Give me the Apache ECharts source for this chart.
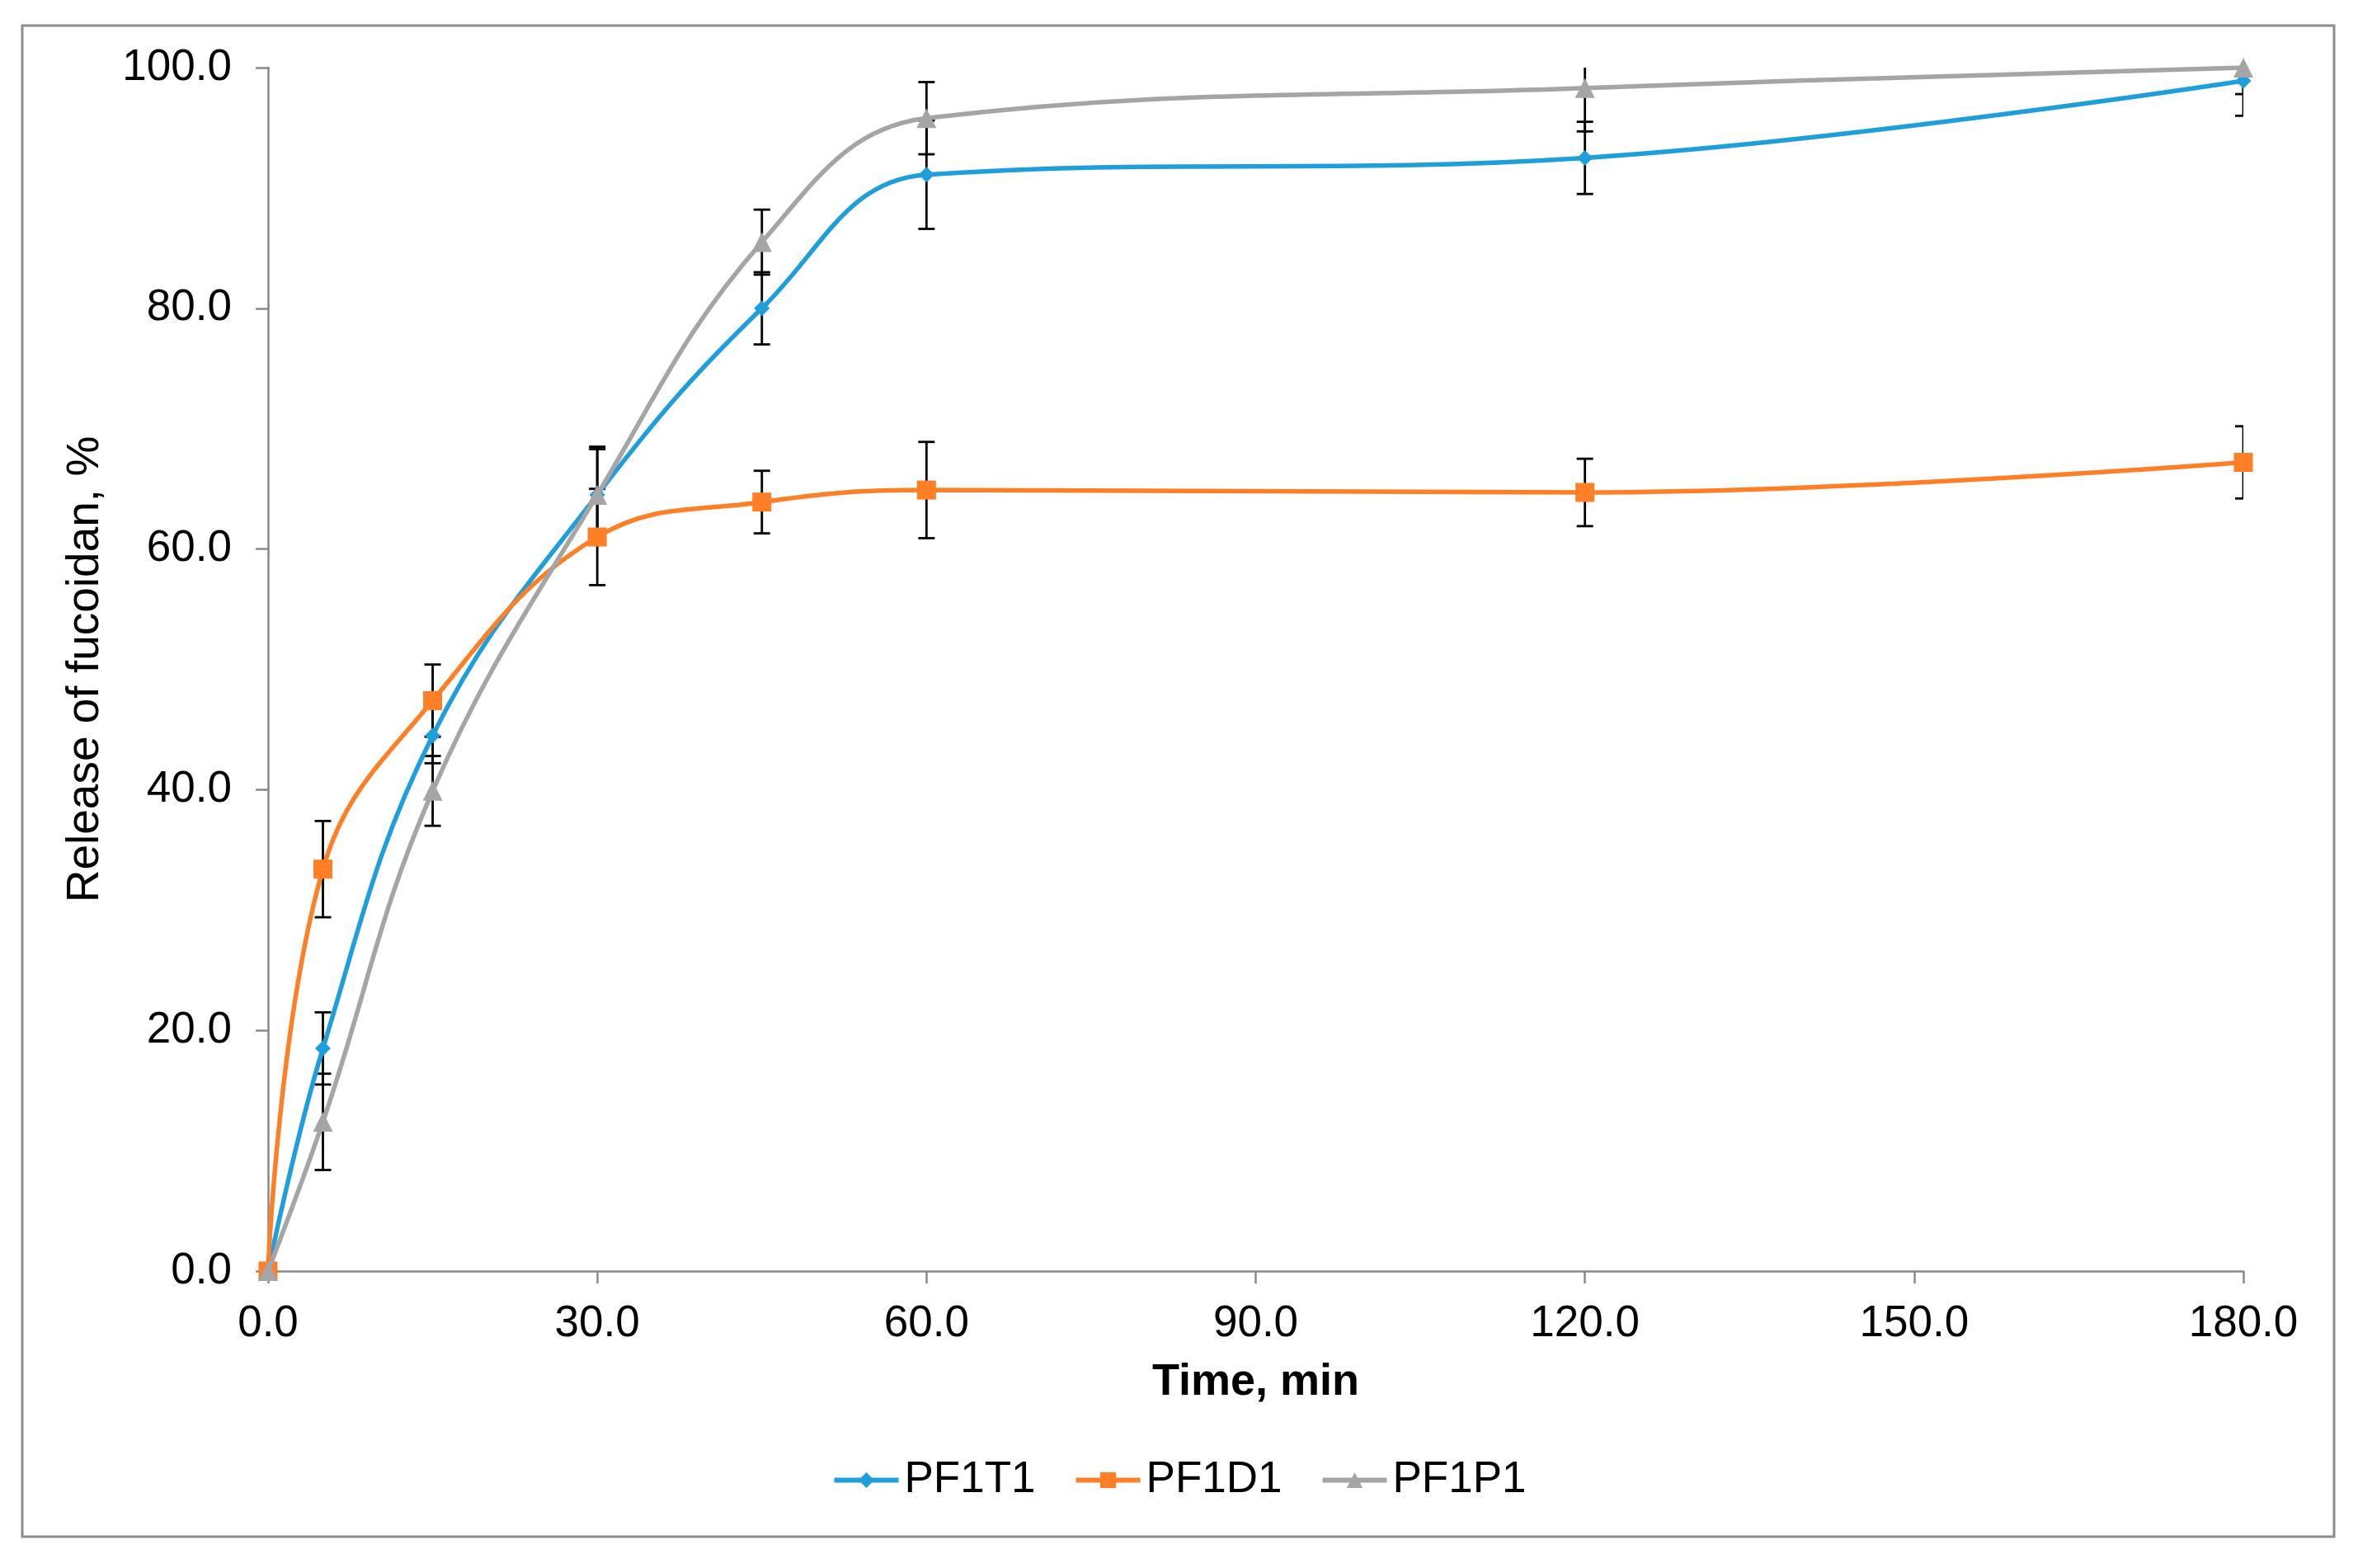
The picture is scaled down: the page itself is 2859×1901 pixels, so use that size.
<!DOCTYPE html>
<html>
<head>
<meta charset="utf-8">
<script src="https://cdn.jsdelivr.net/npm/echarts@6/dist/echarts.min.js"></script>
<style>
html,body{margin:0;padding:0;background:#fff;}
#chart{width:2859px;height:1901px;}
</style>
</head>
<body>
<div id="chart"></div>
<script>
const times = [0, 5, 15, 30, 45, 60, 120, 180];
const seriesNames = ['PF1T1', 'PF1D1', 'PF1P1'];
const valuesT1 = [0, 18.5, 44.5, 64.5, 80.0, 91.1, 92.5, 98.9];
const valuesD1 = [0, 33.4, 47.4, 61.0, 63.9, 64.9, 64.7, 67.2];
const valuesP1 = [0, 12.4, 39.9, 64.5, 85.5, 95.8, 98.3, 100.0];
const errorsT1 = [0, 3.0, 2.3, 3.8, 3.0, 4.5, 3.0, 2.9];
const errorsD1 = [0, 4.0, 3.0, 4.0, 2.6, 4.0, 2.8, 3.0];
const errorsP1 = [0, 4.0, 2.9, 4.0, 2.7, 3.0, 3.6, 2.2];
const xTicks = [0, 30, 60, 90, 120, 150, 180];
const yTicks = [0, 20, 40, 60, 80, 100];

const colors = ['#1F9EDC', '#FF7F27', '#A5A5A5'];
const symbols = ['diamond', 'rect', 'triangle'];
const symbolSizes = [19, 23, 24];
const allValues = [valuesT1, valuesD1, valuesP1];
const allErrors = [errorsT1, errorsD1, errorsP1];

const FONT = '"Liberation Sans", Arial, sans-serif';

function pairs(vals) { return times.map((t, i) => [t, vals[i]]); }
function errPairs(vals, errs) { return times.map((t, i) => [t, vals[i], errs[i]]); }

function renderErr(params, api) {
  const x = api.value(0), v = api.value(1), e = api.value(2);
  if (!e) return null;
  const lo = api.coord([x, v - e]);
  const hi = api.coord([x, v + e]);
  const w = 10;
  const st = { stroke: '#000', lineWidth: 2.8 };
  return {
    type: 'group',
    children: [
      { type: 'line', shape: { x1: lo[0], y1: lo[1], x2: hi[0], y2: hi[1] }, style: st },
      { type: 'line', shape: { x1: lo[0] - w, y1: lo[1], x2: lo[0] + w, y2: lo[1] }, style: st },
      { type: 'line', shape: { x1: hi[0] - w, y1: hi[1], x2: hi[0] + w, y2: hi[1] }, style: st }
    ]
  };
}

const series = [];
for (let k = 0; k < 3; k++) {
  series.push({
    type: 'custom',
    name: seriesNames[k] + ' err',
    renderItem: renderErr,
    data: errPairs(allValues[k], allErrors[k]),
    encode: { x: 0, y: 1 },
    clip: true,
    z: 1,
    silent: true
  });
}
for (let k = 0; k < 3; k++) {
  series.push({
    type: 'line',
    name: seriesNames[k],
    data: pairs(allValues[k]),
    smooth: 0.4,
    symbol: symbols[k],
    symbolSize: symbolSizes[k],
    showAllSymbol: true,
    itemStyle: { color: colors[k] },
    lineStyle: { color: colors[k], width: 5.5 },
    clip: false,
    z: 3 + k
  });
}

const chart = echarts.init(document.getElementById('chart'));
chart.setOption({
  animation: false,
  backgroundColor: '#fff',
  graphic: [{
    type: 'rect',
    shape: { x: 27, y: 31, width: 2803, height: 1832 },
    style: { fill: 'none', stroke: '#8C8C8C', lineWidth: 3 },
    silent: true
  }],
  grid: { left: 325, right: 139, top: 82, bottom: 360, containLabel: false },
  legend: {
    data: seriesNames,
    left: 'center',
    top: 1763,
    itemWidth: 78,
    itemHeight: 24,
    itemGap: 46,
    lineStyle: { width: 6 },
    textStyle: { fontFamily: FONT, fontSize: 53, color: '#000', padding: [0, 0, 0, 2] }
  },
  xAxis: {
    type: 'value',
    min: 0, max: 180, interval: 30,
    name: 'Time, min',
    nameLocation: 'middle',
    nameGap: 108,
    nameTextStyle: { fontFamily: FONT, fontSize: 54, fontWeight: 'bold', color: '#000' },
    axisLine: { show: true, lineStyle: { color: '#898989', width: 2.5 } },
    axisTick: { show: true, length: 15, lineStyle: { color: '#898989', width: 2.5 } },
    axisLabel: {
      fontFamily: FONT, fontSize: 53, color: '#000', margin: 38,
      formatter: v => xTicks.includes(v) ? v.toFixed(1) : ''
    },
    splitLine: { show: false }
  },
  yAxis: {
    type: 'value',
    min: 0, max: 100, interval: 20,
    name: 'Release of fucoidan, %',
    nameLocation: 'middle',
    nameGap: 194,
    nameRotate: 90,
    nameTextStyle: { fontFamily: FONT, fontSize: 55, color: '#000' },
    axisLine: { show: true, lineStyle: { color: '#898989', width: 2.5 } },
    axisTick: { show: true, length: 15, lineStyle: { color: '#898989', width: 2.5 } },
    axisLabel: {
      fontFamily: FONT, fontSize: 53, color: '#000', margin: 44,
      formatter: v => yTicks.includes(v) ? v.toFixed(1) : ''
    },
    splitLine: { show: false }
  },
  series: series
});
</script>
</body>
</html>
